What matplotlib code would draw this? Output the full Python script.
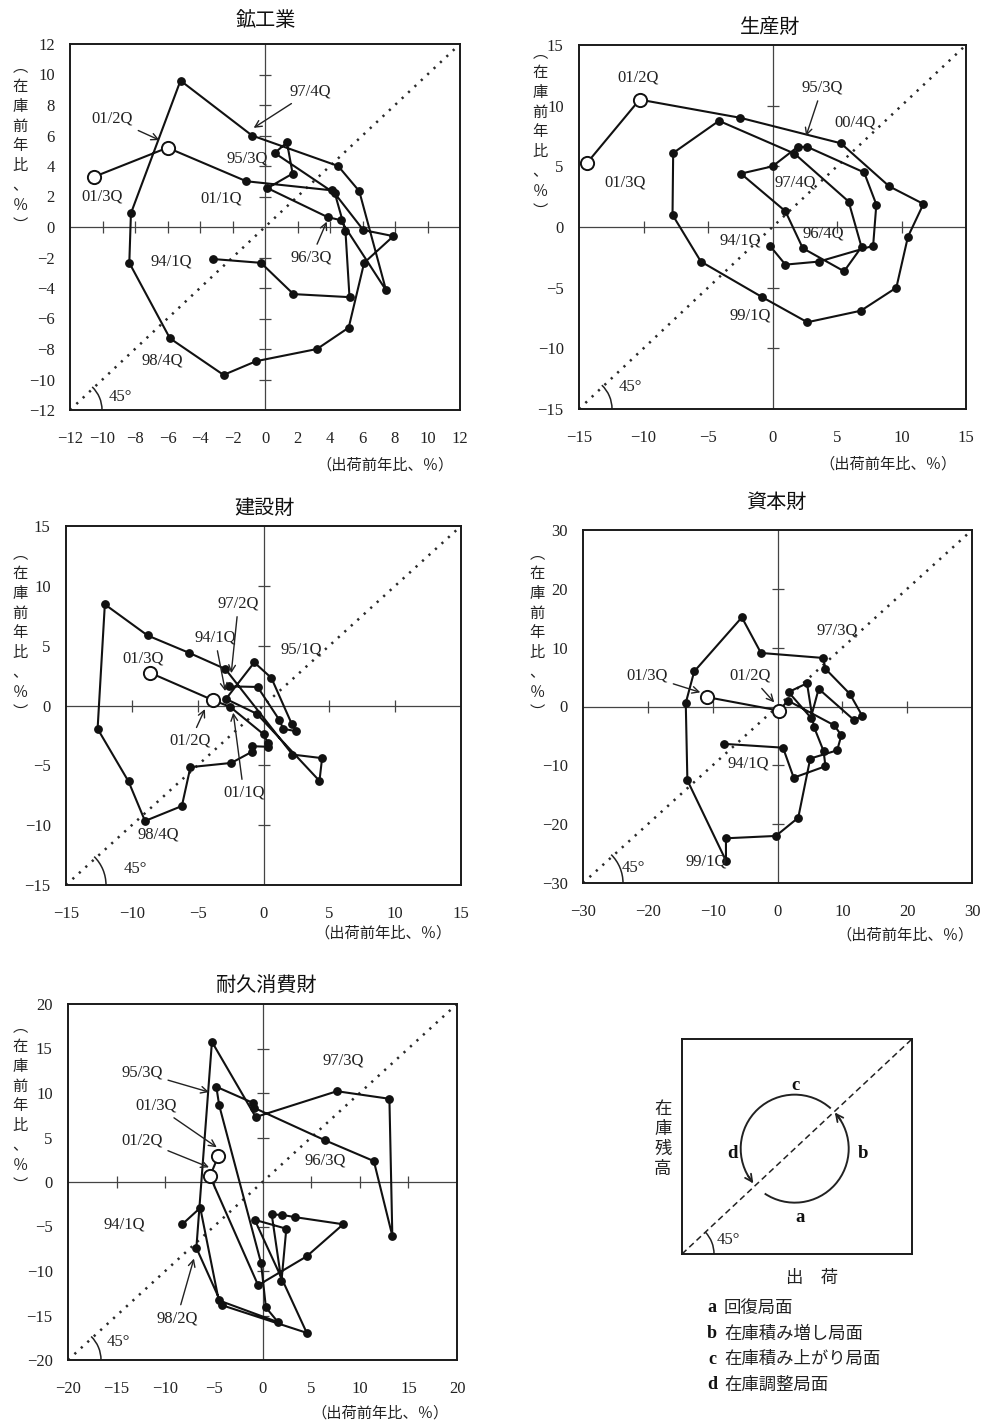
import matplotlib.pyplot as plt
from matplotlib.patches import Arc
import numpy as np

plt.rcParams['font.family'] = ['Liberation Serif', 'Noto Sans CJK JP', 'DejaVu Sans']
CJK = ['Noto Sans CJK JP', 'DejaVu Sans']

W, H = 982, 1426

quarters = ['94/1Q', '94/2Q', '94/3Q', '94/4Q', '95/1Q', '95/2Q', '95/3Q', '95/4Q',
            '96/1Q', '96/2Q', '96/3Q', '96/4Q', '97/1Q', '97/2Q', '97/3Q', '97/4Q',
            '98/1Q', '98/2Q', '98/3Q', '98/4Q', '99/1Q', '99/2Q', '99/3Q', '99/4Q',
            '00/1Q', '00/2Q', '00/3Q', '00/4Q', '01/1Q', '01/2Q', '01/3Q']

# 鉱工業 (shipments yoy, inventory yoy)
mining_ship = [-3.2, -0.25, 1.75, 5.2, 4.95, 4.3, 0.6, 1.35, 1.7, 0.15, 3.85, 4.65,
               7.45, 5.8, 4.5, -0.8, -5.2, -8.25, -8.35, -5.85, -2.55, -0.55, 3.2, 5.15,
               6.1, 7.9, 6.05, 4.15, -1.15, -6.0, -10.5]
mining_inv = [-2.1, -2.35, -4.4, -4.6, -0.25, 2.2, 4.85, 5.55, 3.5, 2.55, 0.65, 0.45,
              -4.15, 2.35, 4.0, 6.0, 9.6, 0.9, -2.35, -7.3, -9.7, -8.8, -8.0, -6.6,
              -2.35, -0.6, -0.2, 2.4, 3.0, 5.2, 3.3]

# 生産財
producer_ship = [-0.2, 1.0, 3.6, 7.8, 8.05, 7.1, 2.7, 1.95, 0.0, -2.45, 1.0, 2.35,
                 5.55, 6.9, 5.9, 1.7, -4.15, -7.7, -7.75, -5.55, -0.85, 2.7, 6.85, 9.6,
                 10.5, 11.7, 9.05, 5.3, -2.5, -10.3, -14.4]
producer_inv = [-1.55, -3.1, -2.85, -1.55, 1.85, 4.5, 6.6, 6.6, 5.0, 4.4, 1.3, -1.75,
                -3.65, -1.65, 2.1, 6.05, 8.75, 6.1, 1.0, -2.85, -5.75, -7.85, -6.9, -5.0,
                -0.8, 1.9, 3.35, 6.9, 9.0, 10.5, 5.25]

# 建設財
construction_ship = [-2.65, -0.45, 1.2, 1.5, 2.5, 2.15, 0.6, -0.7, -2.85, -0.5, 4.25, 4.45,
                     2.2, -2.9, -5.65, -8.8, -12.05, -12.6, -10.25, -9.0, -6.2, -5.55, -2.45, -0.85,
                     -0.9, 0.35, 0.35, 0.0, -2.55, -3.85, -8.65]
construction_inv = [1.6, 1.55, -1.2, -1.95, -2.15, -1.55, 2.3, 3.6, 0.55, -0.7, -6.3, -4.4,
                    -4.1, 3.05, 4.4, 5.85, 8.45, -1.95, -6.35, -9.65, -8.4, -5.15, -4.8, -3.85,
                    -3.4, -3.45, -3.15, -2.4, -0.1, 0.45, 2.75]

# 資本財
capital_ship = [-8.25, 0.85, 2.5, 7.4, 7.1, 5.6, 4.55, 1.7, 5.15, 6.35, 11.85, 13.05,
                11.15, 7.4, 7.05, -2.55, -5.5, -12.85, -14.15, -13.9, -7.95, -7.95, -0.25, 3.2,
                5.05, 9.2, 9.85, 8.75, 1.6, 0.25, -10.9]
capital_inv = [-6.35, -7.0, -12.1, -10.15, -7.55, -3.4, 3.95, 2.45, -1.9, 3.0, -2.35, -1.55,
               2.15, 6.4, 8.25, 9.1, 15.15, 5.95, 0.6, -12.55, -26.2, -22.4, -22.0, -18.9,
               -8.85, -7.45, -4.9, -3.2, 1.0, -0.7, 1.6]

# 耐久消費財
durable_ship = [-8.25, -6.4, -4.5, 1.6, 0.35, -0.15, -4.45, -4.75, -1.0, -0.9, 6.4, 11.45,
                13.35, 13.05, 7.65, -0.7, -5.2, -6.8, -4.15, 4.55, -0.8, 2.45, 1.95, 0.95,
                2.05, 3.35, 8.3, 4.55, -0.45, -5.4, -4.55]
durable_inv = [-4.75, -2.9, -13.3, -15.75, -14.1, -9.1, 8.6, 10.7, 8.9, 8.35, 4.7, 2.35,
               -6.05, 9.35, 10.2, 7.3, 15.75, -7.4, -13.85, -16.95, -4.25, -5.25, -11.15, -3.65,
               -3.7, -3.95, -4.75, -8.35, -11.6, 0.65, 2.9]

phase_keys = ['a', 'b', 'c', 'd']
phase_names = ['回復局面', '在庫積み増し局面', '在庫積み上がり局面', '在庫調整局面']

fig = plt.figure(figsize=(W / 100, H / 100), dpi=100)
fig.patch.set_facecolor('white')


def rect(l, t, r, b):
    return [l / W, 1 - b / H, (r - l) / W, (b - t) / H]


def ftext(x, y, s, **kw):
    return fig.text(x / W, 1 - y / H, s, **kw)


def vtext(x, y, s, size=11, spacing=1.22):
    ftext(x, y, '\n'.join(s), ha='center', va='top', fontsize=size,
          family=CJK, linespacing=spacing, color='#222')


def corner_arc(ax, r_px, theta2=48):
    pos = ax.get_position()
    w = 2 * r_px / (pos.width * W)
    h = 2 * r_px / (pos.height * H)
    ax.add_patch(Arc((0, 0), w, h, theta1=0, theta2=theta2, transform=ax.transAxes,
                     color='#222', lw=1.1, clip_on=False))


def panel(box, ship, inv, lim, step, title, title_xy, ylab_xy, xlab_xy, deg_xy, notes, arc_px):
    ax = fig.add_axes(rect(*box))
    ax.set_xlim(-lim, lim)
    ax.set_ylim(-lim, lim)
    ticks = np.arange(-lim, lim + step, step)
    ax.set_xticks(ticks)
    ax.set_yticks(ticks)
    ax.tick_params(axis='x', length=0, pad=15, labelsize=12, colors='#222')
    ax.tick_params(axis='y', length=0, pad=11, labelsize=12, colors='#222')
    for s in ax.spines.values():
        s.set_linewidth(1.4)
        s.set_color('#1a1a1a')

    # zero lines with cross ticks
    ax.axhline(0, color='#444', lw=0.9, zorder=1)
    ax.axvline(0, color='#444', lw=0.9, zorder=1)
    inner = ticks[1:-1]
    inner = inner[inner != 0]
    ax.plot(inner, np.zeros_like(inner), ls='none', marker='|', ms=8, mew=0.9, color='#444', zorder=1)
    ax.plot(np.zeros_like(inner), inner, ls='none', marker='_', ms=8, mew=0.9, color='#444', zorder=1)

    # 45 degree line
    ax.plot([-lim, lim], [-lim, lim], color='#2a2a2a', lw=1.8, ls=(0, (0.9, 2.6)), zorder=2)
    corner_arc(ax, arc_px)

    ax.plot(ship, inv, color='#111', lw=1.5, zorder=3)
    ax.plot(ship[:-2], inv[:-2], 'o', ms=5.3, color='#111', zorder=4)
    ax.plot(ship[-2:], inv[-2:], 'o', ms=9.5, mfc='white', mec='#111', mew=1.4, zorder=5)

    for txt, pos, tip in notes:
        if tip is None:
            ax.text(pos[0], pos[1], txt, ha='center', va='center', fontsize=12, color='#222', zorder=6)
        else:
            ax.annotate(txt, xy=tip, xytext=pos, ha='center', va='center', fontsize=12,
                        color='#222', zorder=6,
                        arrowprops=dict(arrowstyle='->', lw=1.0, color='#222',
                                        shrinkA=2, shrinkB=0, mutation_scale=12))

    ftext(*title_xy, title, ha='center', va='center', fontsize=14.5, family=CJK, color='#111')
    vtext(ylab_xy[0], ylab_xy[1], '︵在庫前年比、％︶')
    ftext(*xlab_xy, '（出荷前年比、％）', ha='center', va='center', fontsize=11, family=CJK, color='#222')
    ftext(*deg_xy, '45°', ha='center', va='center', fontsize=12, color='#222')
    return ax


panel((70, 44, 460, 410), mining_ship, mining_inv, 12, 2, '鉱工業',
      (266, 20), (20, 58), (385, 465), (120, 397),
      [('97/4Q', (2.8, 8.9), (-0.7, 6.5)),
       ('01/2Q', (-9.4, 7.1), (-6.5, 5.7)),
       ('95/3Q', (-1.1, 4.5), None),
       ('01/3Q', (-10.0, 2.0), None),
       ('01/1Q', (-2.7, 1.85), None),
       ('94/1Q', (-5.75, -2.25), None),
       ('96/3Q', (2.85, -2.0), (3.8, 0.35)),
       ('98/4Q', (-6.3, -8.75), None)], 32)

panel((579, 45, 966, 409), producer_ship, producer_inv, 15, 5, '生産財',
      (770, 27), (540, 44), (888, 464), (630, 387),
      [('01/2Q', (-10.4, 12.3), None),
       ('01/3Q', (-11.45, 3.65), None),
       ('95/3Q', (3.85, 11.5), (2.6, 7.5)),
       ('00/4Q', (6.4, 8.6), None),
       ('97/4Q', (1.75, 3.7), None),
       ('96/4Q', (3.9, -0.5), None),
       ('94/1Q', (-2.5, -1.1), None),
       ('99/1Q', (-1.75, -7.3), None)], 33)

panel((66, 526, 461, 885), construction_ship, construction_inv, 15, 5, '建設財',
      (264, 508), (20, 545), (383, 933), (135, 869),
      [('97/2Q', (-1.9, 8.55), (-2.45, 2.7)),
       ('94/1Q', (-3.7, 5.7), (-2.9, 1.2)),
       ('95/1Q', (2.9, 4.7), None),
       ('01/3Q', (-9.15, 3.9), None),
       ('01/2Q', (-5.55, -2.95), (-4.45, -0.3)),
       ('01/1Q', (-1.5, -7.3), (-2.3, -0.6)),
       ('98/4Q', (-8.0, -10.8), None)], 40)

panel((583, 530, 972, 883), capital_ship, capital_inv, 30, 10, '資本財',
      (776, 502), (537, 545), (905, 935), (633, 868),
      [('97/3Q', (9.2, 13.0), None),
       ('01/3Q', (-20.1, 5.25), (-11.9, 2.4)),
       ('01/2Q', (-4.2, 5.25), (-0.5, 0.7)),
       ('94/1Q', (-4.5, -9.65), None),
       ('99/1Q', (-11.0, -26.4), None)], 40)

panel((68, 1004, 457, 1360), durable_ship, durable_inv, 20, 5, '耐久消費財',
      (266, 985), (20, 1018), (380, 1413), (118, 1342),
      [('95/3Q', (-12.4, 12.3), (-5.5, 10.1)),
       ('01/3Q', (-10.95, 8.6), (-4.7, 3.9)),
       ('01/2Q', (-12.4, 4.7), (-5.5, 1.65)),
       ('97/3Q', (8.3, 13.7), None),
       ('96/3Q', (6.45, 2.4), None),
       ('94/1Q', (-14.2, -4.8), None),
       ('98/2Q', (-8.8, -15.3), (-7.05, -8.6))], 33)

# inventory cycle schematic
sx = fig.add_axes(rect(682, 1039, 912, 1254))
sx.set_xlim(0, 1)
sx.set_ylim(0, 1)
sx.set_xticks([])
sx.set_yticks([])
for s in sx.spines.values():
    s.set_linewidth(1.4)
    s.set_color('#1a1a1a')
sx.plot([0, 1], [0, 1], color='#222', lw=1.1, ls=(0, (4, 2.5)))
corner_arc(sx, 32, theta2=45)

cx, cy = 0.49, 0.49
rw, rh = 54 / 230, 54 / 215
for t1, t2 in [(-122, 42), (50, 220)]:
    sx.add_patch(Arc((cx, cy), 2 * rw, 2 * rh, theta1=t1, theta2=t2, color='#222', lw=1.4))
    te = np.radians(t2)
    tb = np.radians(t2 - 10)
    sx.annotate('', xy=(cx + rw * np.cos(te), cy + rh * np.sin(te)),
                xytext=(cx + rw * np.cos(tb), cy + rh * np.sin(tb)),
                arrowprops=dict(arrowstyle='->', lw=1.3, color='#222', mutation_scale=13,
                                shrinkA=0, shrinkB=0))

for key, (x, y) in zip(['c', 'b', 'd', 'a'], [(795, 1085), (863, 1153), (732, 1154), (800, 1218)]):
    ftext(x, y, key, ha='center', va='center', fontsize=13.5, fontweight='bold', color='#111')
ftext(728, 1240, '45°', ha='center', va='center', fontsize=12, color='#222')
vtext(663, 1100, '在庫残高', size=12.5, spacing=1.15)
ftext(812, 1278, '出　荷', ha='center', va='center', fontsize=12.5, family=CJK, color='#222')

for i, (key, name) in enumerate(zip(phase_keys, phase_names)):
    y = 1308 + i * 25.5
    ftext(712, y, key, ha='center', va='center', fontsize=13, fontweight='bold', color='#111')
    ftext(724, y, name, ha='left', va='center', fontsize=12.5, family=CJK, color='#222')

fig.savefig('out.png', dpi=100, facecolor='white')
